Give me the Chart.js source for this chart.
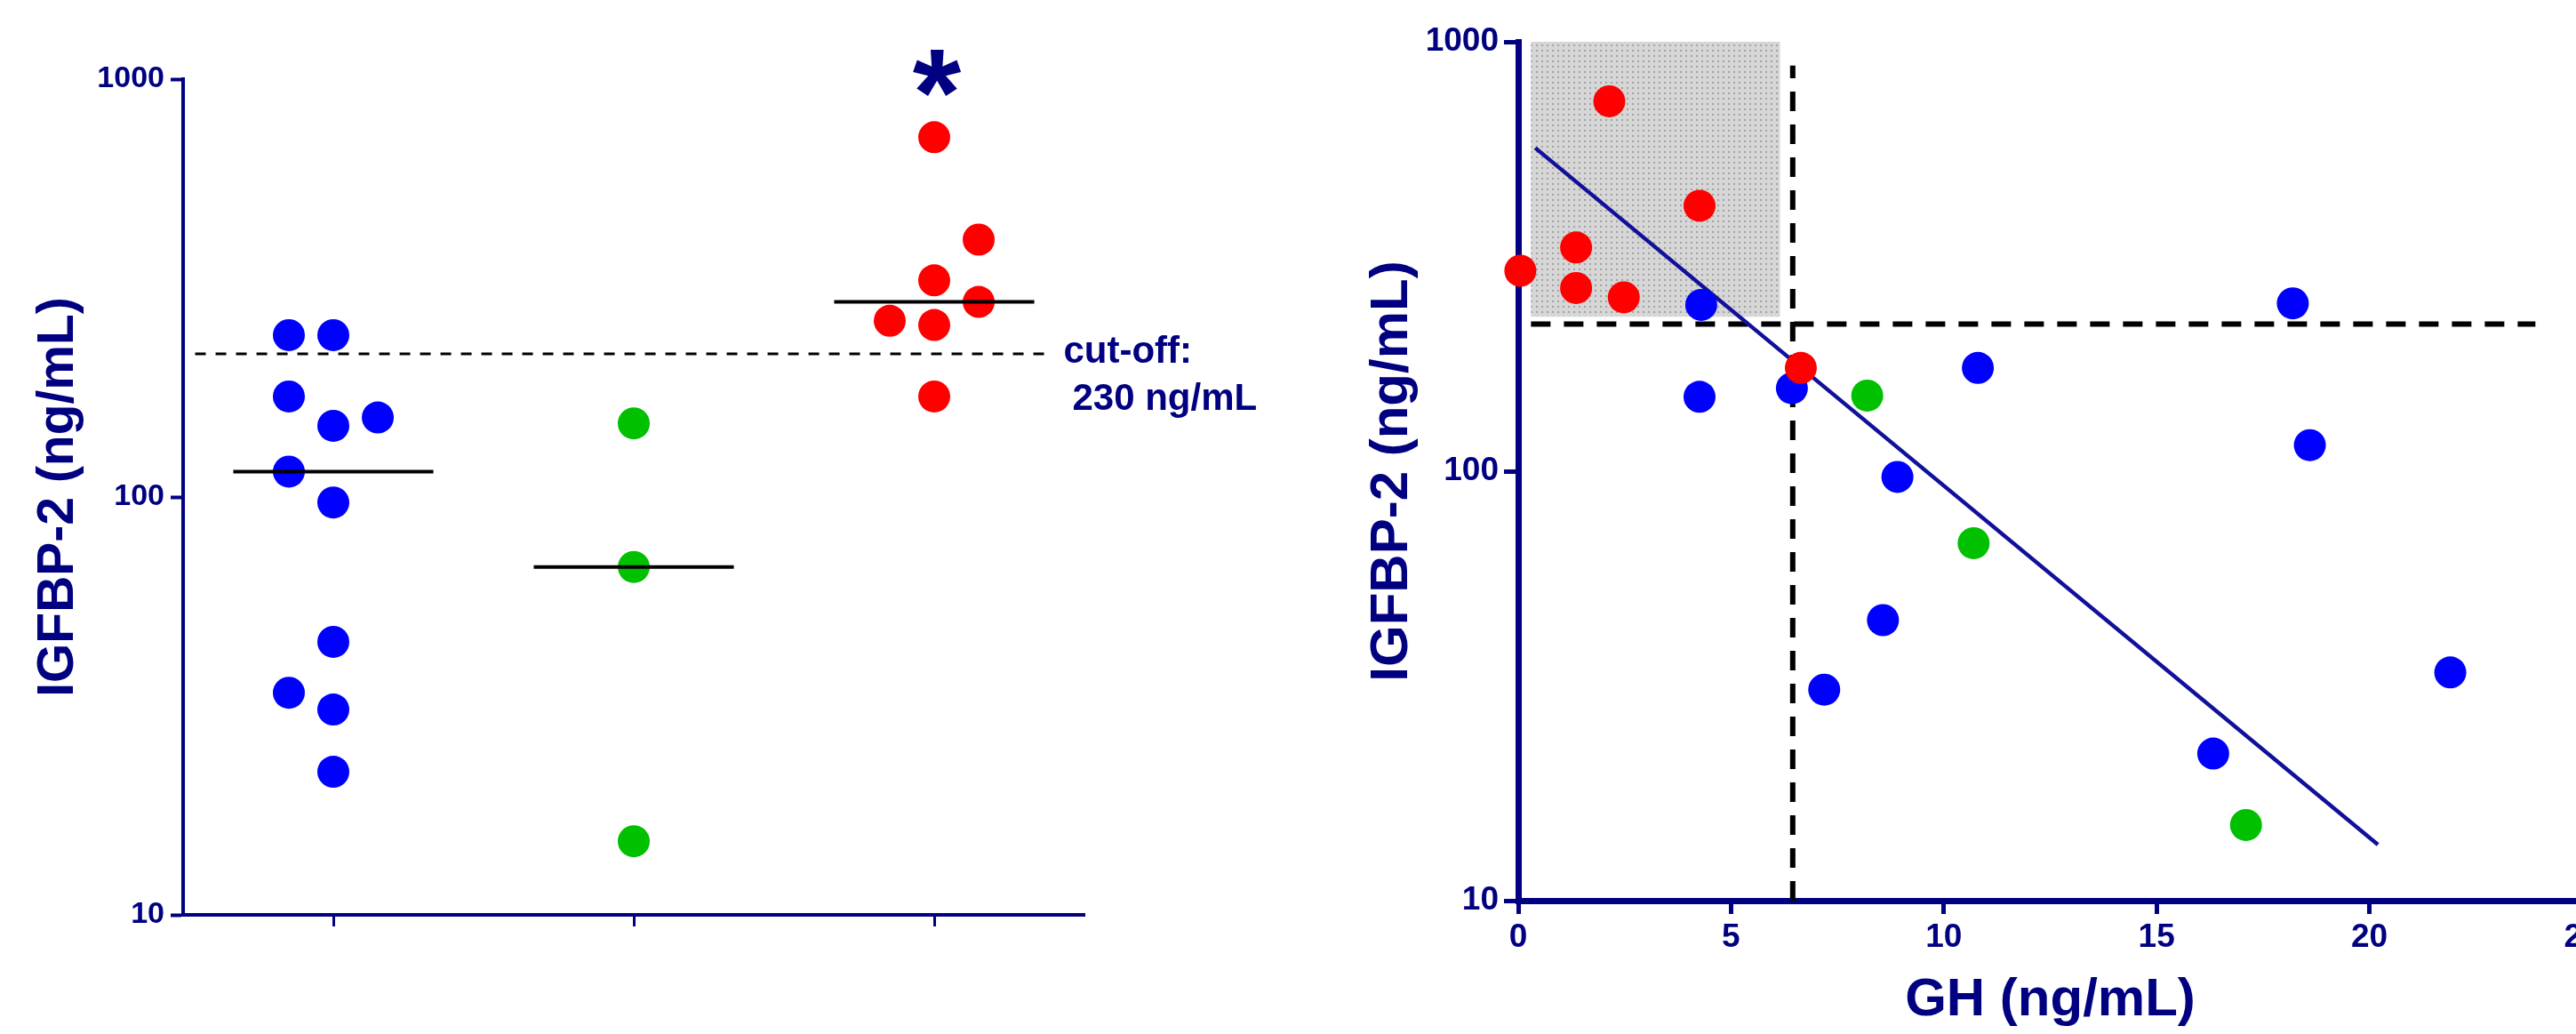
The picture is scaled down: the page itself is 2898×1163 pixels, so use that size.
<!DOCTYPE html>
<html>
<head>
<meta charset="utf-8">
<title>IGFBP-2 and GH</title>
<script src="https://cdn.jsdelivr.net/npm/chart.js@4.4.1/dist/chart.umd.min.js"></script>
<style>
  html, body { margin: 0; padding: 0; background: #fff; overflow: hidden; width: 2898px; height: 1163px; }
  #left { position: absolute; left: 0; top: 0; }
  #right { position: absolute; left: 1480px; top: 0; }
</style>
</head>
<body>
<canvas id="left" width="1480" height="1163"></canvas>
<canvas id="right" width="1520" height="1163"></canvas>
<script>
// ---- left panel: IGFBP-2 by group (x = group slot, shift = side offset of a dot)
const groupSlots = [1, 2, 3];
const blueIgfbp = [244, 244, 174, 148, 155, 115, 97, 45, 34, 31, 22];
const blueShift = [-1, 0, -1, 0, 1, -1, 0, 0, -1, 0, 0];
const greenIgfbp = [150, 68, 15];
const greenShift = [0, 0, 0];
const redIgfbp = [726, 413, 330, 293, 264, 258, 174];
const redShift = [0, 1, 0, 1, -1, 0, 0];
const cutoff = 220;
const cutoffSpan = [0.54, 3.38];
const cutoffNote = ["cut-off:", "230 ng/mL"];
const starMark = "*";
const starGroup = 3;
const igfbpTicks = [10, 100, 1000];

// ---- right panel: GH vs IGFBP-2
const blueGh = [4.3, 4.26, 6.43, 10.8, 18.2, 18.6, 8.91, 8.57, 7.19, 21.9, 16.33];
const blueIg = [244, 149, 156, 174, 246, 115, 97, 45, 31, 34, 22];
const greenGh = [8.2, 10.7, 17.1];
const greenIg = [150, 68, 15];
const redGh = [0.05, 2.14, 4.26, 1.36, 1.36, 2.48, 6.64];
const redIg = [293, 727, 415, 332, 267, 254, 174];
const fitGh = [0.4, 20.2];
const fitIg = [566, 13.5];
const ghCut = 6.45;
const ghCutSpan = [10, 880];
const igCutSpan = [0.3, 23.9];
const boxGh = [0.3, 6.15];
const boxIg = [229, 1000];

const NAVY = "#000080";
const FONT = "'Liberation Sans', Arial, sans-serif";
const SHIFT = 0.148;
const DOT = 18;

Chart.defaults.font.family = FONT;
Chart.defaults.font.weight = "bold";
Chart.defaults.color = NAVY;

function median(arr) {
  const s = [...arr].sort((a, b) => a - b);
  const m = s.length >> 1;
  return s.length % 2 ? s[m] : (s[m - 1] + s[m]) / 2;
}

function dots(xs, ys, color, order) {
  return {
    data: xs.map((x, i) => ({ x, y: ys[i] })),
    backgroundColor: color,
    borderWidth: 0,
    pointRadius: DOT,
    pointHoverRadius: DOT,
    showLine: false,
    clip: false,
    order,
  };
}

function segment(xs, ys, color, width, dash, order) {
  return {
    data: xs.map((x, i) => ({ x, y: ys[i] })),
    borderColor: color,
    borderWidth: width,
    borderDash: dash || [],
    pointRadius: 0,
    showLine: true,
    fill: false,
    clip: false,
    order,
  };
}

function fixedWidth(w) { return (s) => { s.width = w; }; }
function fixedHeight(h) { return (s) => { s.height = h; }; }
function logTicks(s) { s.ticks = igfbpTicks.map((v) => ({ value: v })); }

function dotPattern() {
  const c = document.createElement("canvas");
  c.width = 6; c.height = 6;
  const g = c.getContext("2d");
  g.fillStyle = "#d6d6d6";
  g.fillRect(0, 0, 6, 6);
  g.fillStyle = "#a2a2a2";
  g.fillRect(2, 2, 2, 2);
  return g.createPattern(c, "repeat");
}

// ---- left chart
const groupX = (slot, shifts) => shifts.map((k) => slot + k * SHIFT);

const leftNotes = {
  id: "leftNotes",
  afterDatasetsDraw(chart) {
    const { ctx, chartArea, scales: { x, y } } = chart;
    ctx.save();
    ctx.fillStyle = NAVY;
    ctx.textAlign = "left";
    ctx.textBaseline = "alphabetic";
    ctx.font = `bold 42px ${FONT}`;
    const lx = x.getPixelForValue(cutoffSpan[1]) + 17;
    const ly = y.getPixelForValue(cutoff);
    ctx.fillText(cutoffNote[0], lx, ly + 10);
    ctx.fillText(cutoffNote[1], lx + 10, ly + 63);

    ctx.font = `bold 140px ${FONT}`;
    ctx.textAlign = "center";
    const m = ctx.measureText(starMark);
    const sx = x.getPixelForValue(starGroup) + 3;
    const sy = chartArea.top - 7;
    ctx.fillText(starMark, sx, sy + (m.actualBoundingBoxAscent - m.actualBoundingBoxDescent) / 2);
    ctx.restore();
  },
};

const medBlue = median(blueIgfbp);
const medGreen = median(greenIgfbp);
const medRed = median(redIgfbp);

new Chart(document.getElementById("left"), {
  type: "scatter",
  data: {
    datasets: [
      segment([groupSlots[0] - 0.333, groupSlots[0] + 0.333], [medBlue, medBlue], "#000", 4, null, 0),
      segment([groupSlots[1] - 0.333, groupSlots[1] + 0.333], [medGreen, medGreen], "#000", 4, null, 0),
      segment([groupSlots[2] - 0.333, groupSlots[2] + 0.333], [medRed, medRed], "#000", 4, null, 0),
      segment(cutoffSpan, [cutoff, cutoff], "#000", 3, [12, 11], 1),
      dots(groupX(groupSlots[0], blueShift), blueIgfbp, "#0000ff", 2),
      dots(groupX(groupSlots[1], greenShift), greenIgfbp, "#00c000", 2),
      dots(groupX(groupSlots[2], redShift), redIgfbp, "#ff0000", 2),
    ],
  },
  options: {
    responsive: false,
    devicePixelRatio: 1,
    animation: false,
    events: [],
    layout: { padding: { left: 0, top: 89, right: 260, bottom: 0 } },
    plugins: { legend: { display: false }, tooltip: { enabled: false } },
    scales: {
      x: {
        type: "linear",
        min: 0.5,
        max: 3.5,
        afterBuildTicks: (s) => { s.ticks = groupSlots.map((v) => ({ value: v })); },
        afterFit: fixedHeight(134),
        ticks: { callback: () => "" },
        grid: { drawOnChartArea: false, tickLength: 13, tickWidth: 3, tickColor: NAVY },
        border: { color: NAVY, width: 4 },
      },
      y: {
        type: "logarithmic",
        min: 10,
        max: 1000,
        afterBuildTicks: logTicks,
        afterFit: fixedWidth(206),
        ticks: { callback: (v) => String(v), font: { size: 34, weight: "bold" }, color: NAVY, padding: 7 },
        grid: { drawOnChartArea: false, tickLength: 14, tickWidth: 4, tickColor: NAVY },
        border: { color: NAVY, width: 4 },
        title: {
          display: true,
          text: "IGFBP-2 (ng/mL)",
          color: NAVY,
          font: { size: 57, weight: "bold" },
          padding: { top: 32, bottom: 0 },
        },
      },
    },
  },
  plugins: [leftNotes],
});

// ---- right chart
const shadeBox = {
  id: "shadeBox",
  beforeDatasetsDraw(chart) {
    const { ctx, scales: { x, y } } = chart;
    const x0 = x.getPixelForValue(boxGh[0]);
    const x1 = x.getPixelForValue(boxGh[1]);
    const y0 = y.getPixelForValue(boxIg[1]);
    const y1 = y.getPixelForValue(boxIg[0]);
    ctx.save();
    ctx.fillStyle = dotPattern();
    ctx.fillRect(x0, y0, x1 - x0, y1 - y0);
    ctx.restore();
  },
};

new Chart(document.getElementById("right"), {
  type: "scatter",
  data: {
    datasets: [
      dots(redGh, redIg, "#ff0000", 1),
      dots(greenGh, greenIg, "#00c000", 2),
      dots(blueGh, blueIg, "#0000ff", 3),
      segment(fitGh, fitIg, "#10109a", 4.5, null, 4),
      segment(igCutSpan, [cutoff, cutoff], "#000", 6, [22, 15], 5),
      segment([ghCut, ghCut], ghCutSpan, "#000", 6, [22, 15], 5),
    ],
  },
  options: {
    responsive: false,
    devicePixelRatio: 1,
    animation: false,
    events: [],
    layout: { padding: { left: 0, top: 47, right: 95, bottom: 0 } },
    plugins: { legend: { display: false }, tooltip: { enabled: false } },
    scales: {
      x: {
        type: "linear",
        min: 0,
        max: 25,
        afterFit: fixedHeight(150),
        ticks: { stepSize: 5, font: { size: 37, weight: "bold" }, color: NAVY, padding: 5 },
        grid: { drawOnChartArea: false, tickLength: 15, tickWidth: 5, tickColor: NAVY },
        border: { color: NAVY, width: 7 },
        title: {
          display: true,
          text: "GH (ng/mL)",
          color: NAVY,
          font: { size: 60, weight: "bold" },
          padding: { top: 0, bottom: 2 },
        },
      },
      y: {
        type: "logarithmic",
        min: 10,
        max: 1000,
        afterBuildTicks: logTicks,
        afterFit: fixedWidth(228),
        ticks: { callback: (v) => String(v), font: { size: 37, weight: "bold" }, color: NAVY, padding: 6 },
        grid: { drawOnChartArea: false, tickLength: 16, tickWidth: 5, tickColor: NAVY },
        border: { color: NAVY, width: 7 },
        title: {
          display: true,
          text: "IGFBP-2 (ng/mL)",
          color: NAVY,
          font: { size: 60, weight: "bold" },
          padding: { top: 50, bottom: 0 },
        },
      },
    },
  },
  plugins: [shadeBox],
});
</script>
</body>
</html>
